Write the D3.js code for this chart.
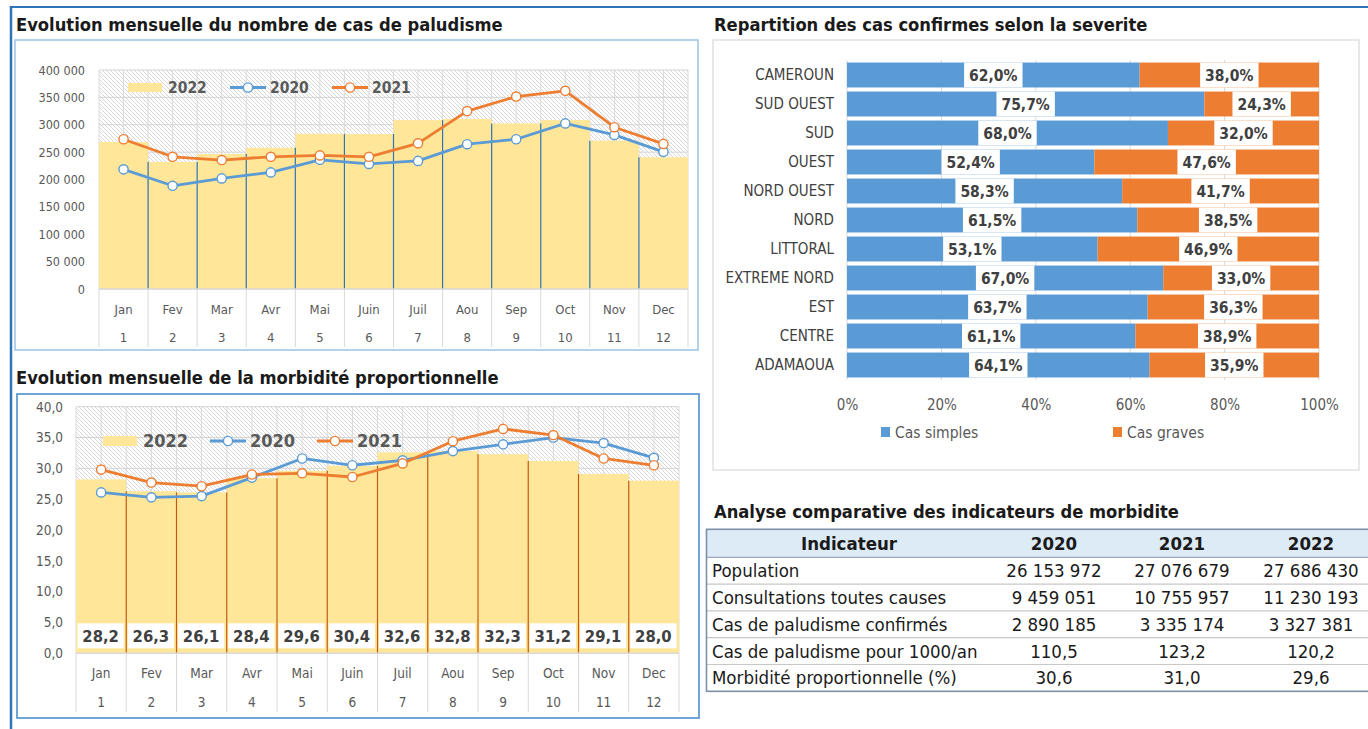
<!DOCTYPE html>
<html>
<head>
<meta charset="utf-8">
<script src="https://cdn.jsdelivr.net/npm/d3@7/dist/d3.min.js"></script>
<style>
  body { margin: 0; background: #fff; }
  svg { display: block; font-family: "DejaVu Sans Condensed", "DejaVu Sans", sans-serif; }
</style>
</head>
<body>
<svg id="page" width="1368" height="729"></svg>
<script>
// ---- data ----
var months = ["Jan", "Fev", "Mar", "Avr", "Mai", "Juin", "Juil", "Aou", "Sep", "Oct", "Nov", "Dec"];
var monthNums = ["1", "2", "3", "4", "5", "6", "7", "8", "9", "10", "11", "12"];

var cases2022 = [268500, 232000, 246500, 258000, 283500, 283000, 308500, 310500, 302500, 308500, 271000, 240500];
var cases2020 = [218500, 188500, 202000, 213000, 236000, 228500, 234000, 264500, 273500, 302500, 281500, 250500];
var cases2021 = [273500, 241500, 235500, 241500, 244000, 241500, 266000, 325000, 351500, 362000, 295500, 265000];
var casesTicks = [0, 50000, 100000, 150000, 200000, 250000, 300000, 350000, 400000];

var morb2022 = [28.2, 26.3, 26.1, 28.4, 29.6, 30.4, 32.6, 32.8, 32.3, 31.2, 29.1, 28.0];
var morb2020 = [26.1, 25.3, 25.5, 28.5, 31.6, 30.5, 31.3, 32.8, 33.9, 35.0, 34.1, 31.7];
var morb2021 = [29.8, 27.7, 27.1, 29.0, 29.2, 28.6, 30.8, 34.4, 36.4, 35.4, 31.6, 30.5];
var morbTicks = [0, 5, 10, 15, 20, 25, 30, 35, 40];

var regions = ["CAMEROUN", "SUD OUEST", "SUD", "OUEST", "NORD OUEST", "NORD", "LITTORAL", "EXTREME NORD", "EST", "CENTRE", "ADAMAOUA"];
var casSimples = [62.0, 75.7, 68.0, 52.4, 58.3, 61.5, 53.1, 67.0, 63.7, 61.1, 64.1];
var casGraves = [38.0, 24.3, 32.0, 47.6, 41.7, 38.5, 46.9, 33.0, 36.3, 38.9, 35.9];
var pctTicks = [0, 20, 40, 60, 80, 100];

var tableHeader = ["Indicateur", "2020", "2021", "2022"];
var indicators = ["Population", "Consultations toutes causes", "Cas de paludisme confirmés", "Cas de paludisme pour 1000/an", "Morbidité proportionnelle (%)"];
var ind2020 = [26153972, 9459051, 2890185, 110.5, 30.6];
var ind2021 = [27076679, 10755957, 3335174, 123.2, 31.0];
var ind2022 = [27686430, 11230193, 3327381, 120.2, 29.6];

// ---- formats ----
var fr = d3.formatLocale({decimal: ",", thousands: " ", grouping: [3], currency: ["", ""]});
var fmtInt = fr.format(",.0f");
var fmtOne = fr.format(".1f");
var rowFormats = [fmtInt, fmtInt, fmtInt, fmtOne, fmtOne];

var BLUE = "#5B9BD5", ORANGE = "#ED7D31", YELLOW = "#FFE699", GREY = "#595959";
var TITLE_SIZE = 18.2;

var svg = d3.select("#page");
svg.append("rect").attr("width", 1368).attr("height", 729).attr("fill", "#fff");

var defs = svg.append("defs");
var pat = defs.append("pattern").attr("id", "hatch")
    .attr("patternUnits", "userSpaceOnUse").attr("width", 4).attr("height", 4);
pat.append("rect").attr("width", 4).attr("height", 4).attr("fill", "#fff");
pat.append("path").attr("d", "M-1,-1 L5,5 M-1,3 L1,5 M3,-1 L5,1")
    .attr("stroke", "#cdcdcd").attr("stroke-width", 0.8);

// page frame
svg.append("line").attr("x1", 10).attr("x2", 1368).attr("y1", 7).attr("y2", 7)
    .attr("stroke", "#2E75B6").attr("stroke-width", 2);
svg.append("line").attr("x1", 11).attr("x2", 11).attr("y1", 6).attr("y2", 729)
    .attr("stroke", "#2E75B6").attr("stroke-width", 2.5);


function drawMonthly(o) {
    var g = svg.append("g");

    g.append("text").attr("x", 16).attr("y", o.titleY)
        .attr("font-weight", "bold").attr("font-size", TITLE_SIZE).attr("fill", "#1a1a1a")
        .text(o.title);
    g.append("rect").attr("x", o.box[0]).attr("y", o.box[1]).attr("width", o.box[2]).attr("height", o.box[3])
        .attr("fill", "none").attr("stroke", o.boxColor).attr("stroke-width", o.boxWidth);

    var x = d3.scaleBand().domain(months).range([o.left, o.right]).padding(0);
    var y = d3.scaleLinear().domain([0, o.ticks[o.ticks.length - 1]]).range([o.bottom, o.top]);
    var bw = x.bandwidth();

    // hatched plot background + grid
    g.append("rect").attr("x", o.left).attr("y", o.top)
        .attr("width", o.right - o.left).attr("height", o.bottom - o.top)
        .attr("fill", "url(#hatch)");
    g.append("g").selectAll("line").data(o.ticks).join("line")
        .attr("x1", o.left).attr("x2", o.right)
        .attr("y1", function (d) { return y(d); }).attr("y2", function (d) { return y(d); })
        .attr("stroke", "#d4d4d4");
    g.append("g").selectAll("line").data(d3.range(0, months.length * 2 + 1)).join("line")
        .attr("x1", function (k) { return o.left + k * bw / 2; })
        .attr("x2", function (k) { return o.left + k * bw / 2; })
        .attr("y1", o.top).attr("y2", o.bottom)
        .attr("stroke", "#dadada");

    // y labels
    var ya = g.append("g").attr("transform", "translate(" + o.yLabelX + ",0)")
        .call(d3.axisLeft(y).tickValues(o.ticks).tickSize(0).tickPadding(0).tickFormat(o.fmt));
    ya.attr("font-family", null).attr("font-size", null);
    ya.select(".domain").remove();
    ya.selectAll("text").attr("font-size", o.tickFont).attr("fill", GREY);

    // 2022 bars
    g.append("g").selectAll("rect").data(o.bars).join("rect")
        .attr("x", function (d, i) { return x(months[i]); })
        .attr("width", bw)
        .attr("y", function (d) { return y(d); })
        .attr("height", function (d) { return o.bottom - y(d); })
        .attr("fill", YELLOW);

    // separators between bars
    g.append("g").selectAll("line").data(o.bars.slice(1)).join("line")
        .attr("x1", function (d, i) { return x(months[i + 1]); })
        .attr("x2", function (d, i) { return x(months[i + 1]); })
        .attr("y1", o.bottom)
        .attr("y2", function (d, i) { return y(Math.min(d, o.bars[i])); })
        .attr("stroke", o.sepColor).attr("stroke-width", 1.2);

    // data labels on bars
    if (o.barLabels) {
        var lb = g.append("g").selectAll("g").data(o.bars).join("g");
        lb.append("rect")
            .attr("x", function (d, i) { return x(months[i]) + 1.5; })
            .attr("width", bw - 4)
            .attr("y", o.bottom - 30).attr("height", 25)
            .attr("fill", "#fff");
        lb.append("text")
            .attr("x", function (d, i) { return x(months[i]) + bw / 2 - 0.5; })
            .attr("y", o.bottom - 11.5)
            .attr("text-anchor", "middle")
            .attr("font-weight", "bold").attr("font-size", 16.5).attr("fill", "#404040")
            .text(function (d) { return fmtOne(d); });
    }

    // category axis
    g.append("line").attr("x1", o.left).attr("x2", o.right).attr("y1", o.bottom).attr("y2", o.bottom)
        .attr("stroke", "#d9d9d9").attr("stroke-width", 1.5);
    g.append("g").selectAll("line").data(d3.range(0, months.length + 1)).join("line")
        .attr("x1", function (k) { return o.left + k * bw; })
        .attr("x2", function (k) { return o.left + k * bw; })
        .attr("y1", o.bottom).attr("y2", o.sepBottom)
        .attr("stroke", "#d9d9d9");
    g.append("g").selectAll("text").data(months).join("text")
        .attr("x", function (d) { return x(d) + bw / 2; })
        .attr("y", o.monthY)
        .attr("text-anchor", "middle").attr("font-size", o.catFont).attr("fill", GREY)
        .text(function (d) { return d; });
    g.append("g").selectAll("text").data(monthNums).join("text")
        .attr("x", function (d, i) { return x(months[i]) + bw / 2; })
        .attr("y", o.numY)
        .attr("text-anchor", "middle").attr("font-size", o.catFont).attr("fill", GREY)
        .text(function (d) { return d; });

    // lines
    var line = d3.line()
        .x(function (d, i) { return x(months[i]) + bw / 2; })
        .y(function (d) { return y(d); });
    [[o.s2020, BLUE], [o.s2021, ORANGE]].forEach(function (s) {
        g.append("path").datum(s[0]).attr("d", line)
            .attr("fill", "none").attr("stroke", s[1]).attr("stroke-width", 2.8)
            .attr("stroke-linejoin", "round");
        g.append("g").selectAll("circle").data(s[0]).join("circle")
            .attr("cx", function (d, i) { return x(months[i]) + bw / 2; })
            .attr("cy", function (d) { return y(d); })
            .attr("r", 4.6)
            .attr("fill", "#fff").attr("stroke", s[1]).attr("stroke-width", 1.4);
    });

    // legend
    var L = o.legend;
    var lg = g.append("g").attr("font-weight", "bold").attr("font-size", L.font).attr("fill", GREY);
    lg.append("rect").attr("x", L.x).attr("y", L.y - L.h / 2).attr("width", L.sw).attr("height", L.h).attr("fill", YELLOW);
    lg.append("text").attr("x", L.x + L.sw + L.gap).attr("y", L.y + L.font * 0.36).text("2022");
    [["2020", BLUE], ["2021", ORANGE]].forEach(function (s, k) {
        var x0 = L.x + L.step * (k + 1);
        lg.append("line").attr("x1", x0).attr("x2", x0 + L.sw + 2).attr("y1", L.y).attr("y2", L.y)
            .attr("stroke", s[1]).attr("stroke-width", 2.8);
        lg.append("circle").attr("cx", x0 + (L.sw + 2) / 2).attr("cy", L.y).attr("r", 4.6)
            .attr("fill", "#fff").attr("stroke", s[1]).attr("stroke-width", 1.4);
        lg.append("text").attr("x", x0 + L.sw + 2 + L.gap - 2).attr("y", L.y + L.font * 0.36).text(s[0]);
    });
}

drawMonthly({
    title: "Evolution mensuelle du nombre de cas de paludisme",
    titleY: 31,
    box: [15, 40, 683, 310], boxColor: "#9DC3E6", boxWidth: 1.5,
    left: 99, right: 688, top: 70, bottom: 289,
    ticks: casesTicks, fmt: fmtInt, yLabelX: 85, tickFont: 12.5,
    bars: cases2022, s2020: cases2020, s2021: cases2021,
    sepColor: "#2E75B6", barLabels: false,
    sepBottom: 347, monthY: 314, numY: 342, catFont: 13,
    legend: {x: 128, y: 87.5, sw: 34, h: 9, gap: 6, step: 102, font: 15.5}
});

drawMonthly({
    title: "Evolution mensuelle de la morbidité proportionnelle",
    titleY: 384,
    box: [17, 394, 682, 324], boxColor: "#4A90D0", boxWidth: 1.6,
    left: 76, right: 679, top: 406.7, bottom: 653.3,
    ticks: morbTicks, fmt: fmtOne, yLabelX: 63, tickFont: 13.5,
    bars: morb2022, s2020: morb2020, s2021: morb2021,
    sepColor: "#C55A11", barLabels: true,
    sepBottom: 712, monthY: 678, numY: 707, catFont: 13.5,
    legend: {x: 103, y: 441, sw: 34, h: 10, gap: 6, step: 107, font: 18}
});

// ---- severity stacked bars ----
(function () {
    var g = svg.append("g");
    g.append("text").attr("x", 714).attr("y", 31)
        .attr("font-weight", "bold").attr("font-size", TITLE_SIZE).attr("fill", "#1a1a1a")
        .text("Repartition des cas confirmes selon la severite");
    g.append("rect").attr("x", 713).attr("y", 40).attr("width", 646).attr("height", 430)
        .attr("fill", "none").attr("stroke", "#d9d9d9").attr("stroke-width", 1.2);

    var x = d3.scaleLinear().domain([0, 100]).range([847, 1319]);
    var y = d3.scaleBand().domain(regions).range([60.5, 379.5]).paddingInner(0.14).paddingOuter(0.07);

    g.append("g").selectAll("line").data(pctTicks).join("line")
        .attr("x1", function (d) { return x(d); }).attr("x2", function (d) { return x(d); })
        .attr("y1", 60).attr("y2", 380)
        .attr("stroke", "#d9d9d9");

    var xa = g.append("g").attr("transform", "translate(0,399)")
        .call(d3.axisBottom(x).tickValues(pctTicks).tickSize(0).tickPadding(0).tickFormat(function (d) { return d + "%"; }));
    xa.attr("font-family", null).attr("font-size", null);
    xa.select(".domain").remove();
    xa.selectAll("text").attr("font-size", 15).attr("fill", GREY);

    var ya = g.append("g").attr("transform", "translate(834,0)")
        .call(d3.axisLeft(y).tickSize(0).tickPadding(0));
    ya.attr("font-family", null).attr("font-size", null);
    ya.select(".domain").remove();
    ya.selectAll("text").attr("font-size", 15).attr("fill", "#404040");

    var segs = [];
    regions.forEach(function (r, i) {
        segs.push({r: r, x0: 0, x1: casSimples[i], v: casSimples[i], c: BLUE});
        segs.push({r: r, x0: casSimples[i], x1: casSimples[i] + casGraves[i], v: casGraves[i], c: ORANGE});
    });

    g.append("g").selectAll("rect").data(segs).join("rect")
        .attr("x", function (d) { return x(d.x0); })
        .attr("width", function (d) { return x(d.x1) - x(d.x0); })
        .attr("y", function (d) { return y(d.r); })
        .attr("height", y.bandwidth())
        .attr("fill", function (d) { return d.c; });

    var lab = g.append("g").selectAll("g").data(segs).join("g");
    var bg = lab.append("rect").attr("fill", "#fff");
    var tx = lab.append("text")
        .attr("x", function (d) { return x((d.x0 + d.x1) / 2); })
        .attr("y", function (d) { return y(d.r) + y.bandwidth() / 2 + 5.5; })
        .attr("text-anchor", "middle")
        .attr("font-weight", "bold").attr("font-size", 15.5).attr("fill", "#404040")
        .text(function (d) { return fmtOne(d.v) + "%"; });
    tx.each(function (d) { d.w = this.getComputedTextLength(); });
    bg.attr("x", function (d) { return x((d.x0 + d.x1) / 2) - d.w / 2 - 5; })
        .attr("width", function (d) { return d.w + 10; })
        .attr("y", function (d) { return y(d.r); })
        .attr("height", y.bandwidth());

    var leg = g.append("g").attr("font-size", 15.5).attr("fill", GREY);
    [["Cas simples", BLUE, 881], ["Cas graves", ORANGE, 1113]].forEach(function (s) {
        leg.append("rect").attr("x", s[2]).attr("y", 427).attr("width", 9).attr("height", 10).attr("fill", s[1]);
        leg.append("text").attr("x", s[2] + 14).attr("y", 438).text(s[0]);
    });
})();

// ---- indicators table ----
(function () {
    var g = svg.append("g");
    g.append("text").attr("x", 714).attr("y", 518)
        .attr("font-weight", "bold").attr("font-size", TITLE_SIZE).attr("fill", "#1a1a1a")
        .text("Analyse comparative des indicateurs de morbidite");

    var left = 706.5, right = 1372, top = 529.3, headH = 28, rowH = 26.8;
    var colX = [849, 1054, 1182, 1311];
    var rowY = d3.scaleLinear().domain([0, 1]).range([top + headH, top + headH + rowH]);

    g.append("rect").attr("x", left).attr("y", top).attr("width", right - left).attr("height", headH)
        .attr("fill", "#DDEBF7");
    g.append("g").selectAll("text").data(tableHeader).join("text")
        .attr("x", function (d, i) { return colX[i]; })
        .attr("y", top + headH / 2 + 6.5)
        .attr("text-anchor", "middle").attr("font-weight", "bold").attr("font-size", 18.5).attr("fill", "#1a1a1a")
        .text(function (d) { return d; });

    g.append("g").selectAll("line").data(d3.range(0, indicators.length)).join("line")
        .attr("x1", left).attr("x2", right)
        .attr("y1", function (k) { return rowY(k); }).attr("y2", function (k) { return rowY(k); })
        .attr("stroke", function (k) { return k === 0 ? "#9aa9bd" : "#c8c8c8"; })
        .attr("stroke-width", 1.2);

    var rows = g.append("g").selectAll("g").data(indicators).join("g")
        .attr("transform", function (d, i) { return "translate(0," + (rowY(i) + rowH / 2 + 6.5) + ")"; })
        .attr("font-size", 18.5).attr("fill", "#1a1a1a");
    rows.append("text").attr("x", 712).text(function (d) { return d; });
    [ind2020, ind2021, ind2022].forEach(function (col, c) {
        rows.append("text").attr("x", colX[c + 1]).attr("text-anchor", "middle")
            .text(function (d, i) { return rowFormats[i](col[i]); });
    });

    var bottom = rowY(indicators.length);
    g.append("rect").attr("x", left).attr("y", top).attr("width", right - left).attr("height", bottom - top)
        .attr("fill", "none").attr("stroke", "#7f8fa6").attr("stroke-width", 1.6);
})();
</script>
</body>
</html>
